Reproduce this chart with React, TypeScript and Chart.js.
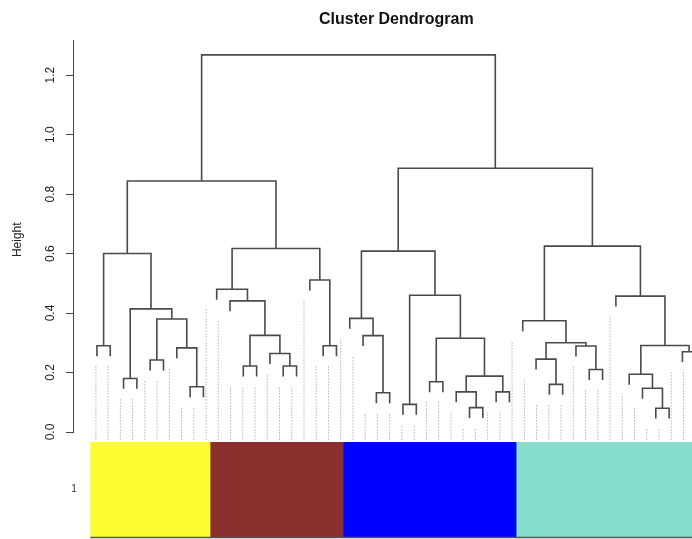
import { useEffect, useRef } from "react";
import { Chart, registerables } from "chart.js";

Chart.register(...registerables);

// ---- data -------------------------------------------------------------
// Each cluster subtree: [left, right, mergeHeight]; L marks a single leaf.
type TreeNode = null | [TreeNode, TreeNode, number];
const L = null;

const yellowTree: TreeNode = [[L, L, 0.29], [[L, L, 0.18], [[L, L, 0.242], [L, [L, L, 0.152], 0.283], 0.38], 0.414], 0.6];
const brownTree: TreeNode = [[L, [L, [[L, L, 0.222], [L, [L, L, 0.222], 0.264], 0.325], 0.441], 0.48], [L, [L, L, 0.29], 0.511], 0.617];
const blueTree: TreeNode = [[L, [L, [L, L, 0.132], 0.324], 0.382], [[L, L, 0.093], [[L, L, 0.169], [[L, [L, L, 0.082], 0.135], [L, L, 0.135], 0.188], 0.315], 0.46], 0.608];
const turquoiseTree: TreeNode = [[L, [[L, [L, L, 0.16], 0.245], [L, [L, L, 0.21], 0.289], 0.3], 0.374], [L, [[L, [L, [L, L, 0.08], 0.147], 0.194], [L, L, 0.27], 0.291], 0.457], 0.625];

const leftBranchHeight = 0.844;
const rightBranchHeight = 0.887;
const rootHeight = 1.268;

const moduleTrees: TreeNode[] = [yellowTree, brownTree, blueTree, turquoiseTree];
const moduleColors = ["#fdfd33", "#8b2e2e", "#0000fe", "#86dccd"];
const colorRowLabels = ["1"];

const yTicks = [0, 0.2, 0.4, 0.6, 0.8, 1.0, 1.2];
const titleText = "Cluster Dendrogram";
const yTitle = "Height";

// plot settings (as in hclust / plotDendroAndColors)
const LEAF_HANG = 0.035;
const GUIDE_HANG = 0.067;
const GUIDE_COUNT = 50;
const GUIDE_BOTTOM = -0.025;
const X_MIN = -1.8;
const X_MAX = 44.72;
const Y_MAX = 1.318;

const FONT = "'Liberation Sans', Arial, Helvetica, sans-serif";

type Pt = { x: number; y: number | null };

function countLeaves(n: TreeNode): number {
  return n === null ? 1 : countLeaves(n[0]) + countLeaves(n[1]);
}

function buildTree() {
  const fullTree: TreeNode = [
    [moduleTrees[0], moduleTrees[1], leftBranchHeight],
    [moduleTrees[2], moduleTrees[3], rightBranchHeight],
    rootHeight,
  ];
  const pts: Pt[] = [];
  const objH: number[] = [];
  let next = 0;
  const walk = (n: TreeNode): { x: number; h: number | null } => {
    if (n === null) return { x: next++, h: null };
    const a = walk(n[0]);
    const b = walk(n[1]);
    const h = n[2];
    if (a.h === null) objH[a.x] = h;
    if (b.h === null) objH[b.x] = h;
    const ya = a.h === null ? h - LEAF_HANG : a.h;
    const yb = b.h === null ? h - LEAF_HANG : b.h;
    pts.push({ x: a.x, y: ya }, { x: a.x, y: h }, { x: b.x, y: h }, { x: b.x, y: yb }, { x: b.x, y: null });
    return { x: (a.x + b.x) / 2, h };
  };
  walk(fullTree);
  const n = next;
  // guide lines (WGCNA addGuideLines)
  const pos = Array.from({ length: GUIDE_COUNT }, (_, i) => ((i + 1) * n) / GUIDE_COUNT);
  const F = pos.map((p) => Math.floor(p)).filter((f) => f >= 1);
  const C = pos.map((p) => Math.ceil(p));
  const guides: Pt[] = [];
  pos.forEach((p, k) => {
    const hf = objH[F[k % F.length] - 1];
    const hc = objH[C[k] - 1];
    const top = Math.min(hf ?? hc, hc ?? hf) - GUIDE_HANG;
    guides.push({ x: p - 1, y: GUIDE_BOTTOM }, { x: p - 1, y: top }, { x: p - 1, y: null });
  });
  return { pts, guides, n };
}

export default function App() {
  const dRef = useRef<HTMLCanvasElement>(null);
  const cRef = useRef<HTMLCanvasElement>(null);

  useEffect(() => {
    const { pts, guides, n } = buildTree();

    const textPlugin = {
      id: "dendroText",
      afterDraw(chart: any) {
        const ctx = chart.ctx;
        const ys = chart.scales.y;
        const xs = chart.scales.x;
        ctx.save();
        ctx.fillStyle = "#222";
        ctx.font = `12px ${FONT}`;
        ctx.textAlign = "center";
        ctx.textBaseline = "middle";
        yTicks.forEach((v) => {
          const y = ys.getPixelForValue(v);
          ctx.save();
          ctx.translate(51, y);
          ctx.rotate(-Math.PI / 2);
          ctx.fillText(v.toFixed(1), 0, 0);
          ctx.restore();
        });
        ctx.save();
        ctx.translate(18, (ys.top + ys.getPixelForValue(GUIDE_BOTTOM)) / 2);
        ctx.rotate(-Math.PI / 2);
        ctx.fillText(yTitle, 0, 0);
        ctx.restore();
        ctx.font = `bold 16px ${FONT}`;
        ctx.textBaseline = "alphabetic";
        ctx.fillStyle = "#111";
        ctx.fillText(titleText, xs.getPixelForValue((n - 1) / 2), 24);
        ctx.restore();
      },
    };

    const clip = { left: 0, top: 0, right: 0, bottom: 12 };
    const c1 = new Chart(dRef.current as HTMLCanvasElement, {
      type: "line",
      data: {
        datasets: [
          {
            data: guides as any,
            borderColor: "#8f8f8f",
            borderWidth: 1,
            borderDash: [1, 2],
            pointRadius: 0,
            spanGaps: false,
            tension: 0,
            clip: clip as any,
          },
          {
            data: pts as any,
            borderColor: "#4a4a4a",
            borderWidth: 1.6,
            pointRadius: 0,
            spanGaps: false,
            tension: 0,
            clip: clip as any,
          },
        ],
      },
      options: {
        responsive: false,
        animation: false,
        devicePixelRatio: 1,
        events: [],
        layout: { padding: { top: 40, bottom: 10, left: 0, right: 0 } },
        plugins: { legend: { display: false }, tooltip: { enabled: false }, title: { display: false } },
        scales: {
          x: { type: "linear", min: X_MIN, max: X_MAX, display: false },
          y: {
            type: "linear",
            min: 0,
            max: Y_MAX,
            afterBuildTicks: (s: any) => {
              s.ticks = yTicks.map((v) => ({ value: v }));
            },
            afterFit: (s: any) => {
              s.width = 73;
            },
            ticks: { display: false },
            grid: { drawOnChartArea: false, drawTicks: true, tickLength: 7, color: "#444", lineWidth: 1 },
            border: { display: true, color: "#444", width: 1 },
          },
        },
      },
      plugins: [textPlugin],
    });

    // colour row: modules stacked left to right, in leaf units
    const sizes = moduleTrees.map(countLeaves);
    const areaW = 692 - 73;
    const barLeft = 73 + ((-0.5 - X_MIN) * areaW) / (X_MAX - X_MIN);
    const rowPlugin = {
      id: "rowText",
      afterDraw(chart: any) {
        const ctx = chart.ctx;
        const a = chart.chartArea;
        const ys = chart.scales.y;
        ctx.save();
        ctx.strokeStyle = "#555";
        ctx.lineWidth = 1.5;
        ctx.beginPath();
        ctx.moveTo(a.left, a.bottom + 0.5);
        ctx.lineTo(a.right, a.bottom + 0.5);
        ctx.stroke();
        ctx.fillStyle = "#333";
        ctx.font = `10px ${FONT}`;
        ctx.textAlign = "center";
        ctx.textBaseline = "middle";
        colorRowLabels.forEach((lab, i) => ctx.fillText(lab, 74, ys.getPixelForValue(i)));
        ctx.restore();
      },
    };
    const c2 = new Chart(cRef.current as HTMLCanvasElement, {
      type: "bar",
      data: {
        labels: colorRowLabels,
        datasets: sizes.map((s, i) => ({
          data: [s],
          backgroundColor: moduleColors[i],
          borderWidth: 0,
          stack: "modules",
          barThickness: 95,
        })),
      },
      options: {
        indexAxis: "y",
        responsive: false,
        maintainAspectRatio: false,
        animation: false,
        devicePixelRatio: 1,
        events: [],
        layout: { padding: { top: 2, bottom: 2, left: barLeft, right: 0 } },
        plugins: { legend: { display: false }, tooltip: { enabled: false } },
        scales: {
          x: { type: "linear", stacked: true, min: 0, max: X_MAX + 0.5, display: false },
          y: { type: "category", stacked: true, offset: true, display: false },
        },
      },
      plugins: [rowPlugin],
    });

    return () => {
      c1.destroy();
      c2.destroy();
    };
  }, []);

  return (
    <div style={{ position: "fixed", left: 0, top: 0, width: 692, height: 539, background: "#fff", overflow: "hidden" }}>
      <canvas ref={dRef} width={692} height={442} style={{ position: "absolute", left: 0, top: 0 }} />
      <canvas ref={cRef} width={692} height={99} style={{ position: "absolute", left: 0, top: 440 }} />
    </div>
  );
}
